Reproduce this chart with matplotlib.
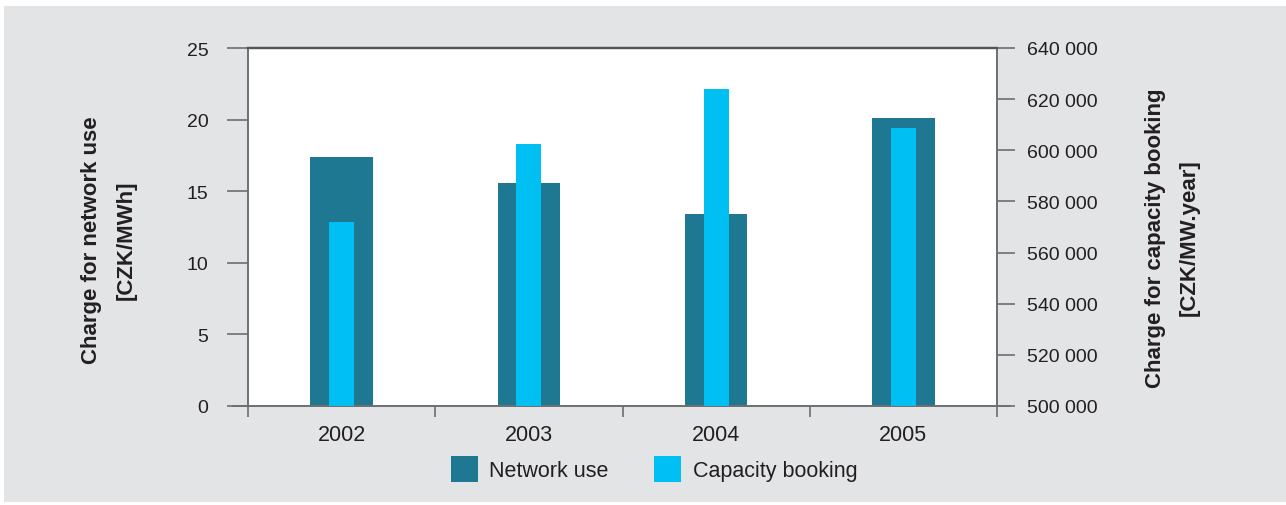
import matplotlib
matplotlib.use("Agg")
import matplotlib.pyplot as plt
from matplotlib.patches import Rectangle, Patch
from matplotlib.ticker import FuncFormatter, FixedLocator

plt.rcParams['font.family'] = ['Liberation Sans', 'DejaVu Sans']

years = ["2002", "2003", "2004", "2005"]
network_use = [17.4, 15.6, 13.4, 20.1]
capacity_booking = [572000, 602500, 624000, 608700]
left_ticks = [0, 5, 10, 15, 20, 25]
right_ticks = [500000, 520000, 540000, 560000, 580000, 600000, 620000, 640000]

dark = "#1f7891"
light = "#00bff3"
bg = "#e3e4e6"
spine_c = "#6d6e71"
txt = "#231f20"

W, H = 1286, 506
fig = plt.figure(figsize=(W / 100, H / 100), dpi=100)
fig.patch.set_facecolor("white")
fig.patches.append(Rectangle((4 / W, 3 / H), 1 - 4 / W, 1 - 10 / H,
                             transform=fig.transFigure, facecolor=bg,
                             edgecolor="none", zorder=-10))

ax = fig.add_axes([248 / W, 99 / H, (997 - 248) / W, (407 - 49) / H])
ax.set_facecolor("white")
x = list(range(len(years)))
ax.bar(x, network_use, width=0.333, color=dark, zorder=2)
ax.set_xlim(-0.5, 3.5)
ax.set_ylim(0, 25)
ax.set_yticks(left_ticks)

ax2 = ax.twinx()
ax2.bar(x, capacity_booking, width=0.134, color=light, zorder=3)
ax2.set_ylim(500000, 640000)
ax2.set_yticks(right_ticks)
ax2.yaxis.set_major_formatter(FuncFormatter(lambda v, p: f"{int(v):,}".replace(",", " ")))
ax2.patch.set_visible(False)

# x ticks: boundaries as marks, labels at centres
ax.xaxis.set_major_locator(FixedLocator([-0.5, 0.5, 1.5, 2.5, 3.5]))
ax.set_xticklabels([])
ax.set_xticks(x, minor=True)
ax.set_xticklabels(years, minor=True)
ax.tick_params(axis="x", which="major", length=8, width=1.2, color=spine_c, direction="out")
ax.tick_params(axis="x", which="minor", length=0, pad=13, labelsize=15.5, labelcolor=txt)
ax.tick_params(axis="y", length=15, width=1.2, color=spine_c, direction="out", pad=13.5,
               labelsize=14, labelcolor=txt)
ax2.tick_params(axis="y", length=13, width=1.2, color=spine_c, direction="out", pad=8.5,
                labelsize=14, labelcolor=txt)

for a in (ax, ax2):
    for s in ("left", "right", "bottom"):
        a.spines[s].set_color(spine_c)
        a.spines[s].set_linewidth(1.2)
    a.spines["top"].set_color("#555555")
    a.spines["top"].set_linewidth(1.6)

# extend bottom axis line outward to tick ends
ax.plot([-0.5 - 15 / ((997 - 248) / 4), -0.5], [0, 0], color=spine_c, lw=1.2,
        clip_on=False, zorder=5)
ax2.plot([3.5, 3.5 + 13 / ((997 - 248) / 4)], [500000, 500000], color=spine_c, lw=1.2,
         clip_on=False, zorder=5)

fig.text(92 / W, 1 - 240 / H, "Charge for network use", rotation=90, ha="center", va="center",
         fontsize=16, fontweight="bold", color=txt)
fig.text(126 / W, 1 - 240 / H, "[CZK/MWh]", rotation=90, ha="center", va="center",
         fontsize=16, fontweight="bold", color=txt)
fig.text(1155 / W, 1 - 238 / H, "Charge for capacity booking", rotation=90, ha="center",
         va="center", fontsize=16, fontweight="bold", color=txt)
fig.text(1189 / W, 1 - 238 / H, "[CZK/MW.year]", rotation=90, ha="center", va="center",
         fontsize=16, fontweight="bold", color=txt)

handles = [Patch(facecolor=dark, edgecolor="none", label="Network use"),
           Patch(facecolor=light, edgecolor="none", label="Capacity booking")]
leg = fig.legend(handles=handles, loc="center", bbox_to_anchor=(654 / W, 1 - 470 / H),
                 ncol=2, frameon=False, fontsize=15.5, handlelength=1.25, handleheight=1.55,
                 handletextpad=0.55, columnspacing=2.1, labelcolor=txt)

fig.savefig("out.png", dpi=100, facecolor=fig.get_facecolor())
